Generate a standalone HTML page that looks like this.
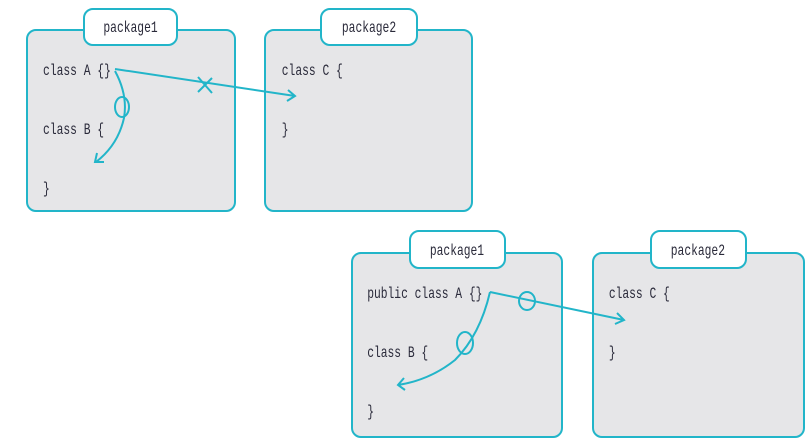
<!DOCTYPE html>
<html><head><style>
body{margin:0;background:#fff;width:811px;height:440px;overflow:hidden}
svg text{font-family:"Liberation Mono",monospace;font-size:15.5px;fill:#2a2a3a}
</style></head><body>
<svg width="811" height="440" viewBox="0 0 811 440" xmlns="http://www.w3.org/2000/svg">
<g stroke="#22b5c9" stroke-width="2" fill="#e6e6e8">
<rect x="27" y="30" width="208" height="181" rx="9"/>
<rect x="265" y="30" width="207" height="181" rx="9"/>
<rect x="352" y="253" width="210" height="184" rx="9"/>
<rect x="593" y="253" width="211" height="184" rx="9"/>
<g fill="#fff">
<rect x="84" y="9" width="93" height="36" rx="9"/>
<rect x="321" y="9" width="96" height="36" rx="9"/>
<rect x="410" y="231" width="95" height="37" rx="9"/>
<rect x="651" y="231" width="95" height="37" rx="9"/>
</g>
</g>
<g text-anchor="middle" transform="scale(0.73,1)">
<text x="178.8" y="32">package1</text>
<text x="505.5" y="32">package2</text>
<text x="626" y="255">package1</text>
<text x="956" y="255">package2</text>
</g>
<g transform="scale(0.73,1)">
<text x="59" y="75">class A {}</text>
<text x="59" y="134">class B {</text>
<text x="59" y="193">}</text>
<text x="386" y="75">class C {</text>
<text x="386" y="134">}</text>
<text x="503" y="298">public class A {}</text>
<text x="503" y="357">class B {</text>
<text x="503" y="416">}</text>
<text x="834" y="298">class C {</text>
<text x="834" y="357">}</text>
</g>
<g stroke="#22b5c9" stroke-width="2" fill="none">
<path d="M115 69 L295 96"/><path d="M288 90 L295 96 L287 101"/>
<path d="M198 77 L212 93 M198 92 L212 78"/>
<path d="M115 71 Q128 95 124 118 Q118 145 96 162"/><path d="M97 153 L95 162 L104 162"/>
<ellipse cx="122" cy="107" rx="7" ry="10"/>
<path d="M490 292 L624 320"/><path d="M617 313 L624 320 L615 324"/>
<ellipse cx="527" cy="301" rx="8" ry="9"/>
<path d="M490 292 Q480 335 455 360 Q430 380 398 385"/><path d="M404 378 L398 385 L405 390"/>
<ellipse cx="465" cy="343" rx="8" ry="11"/>
</g>
</svg>
</body></html>
